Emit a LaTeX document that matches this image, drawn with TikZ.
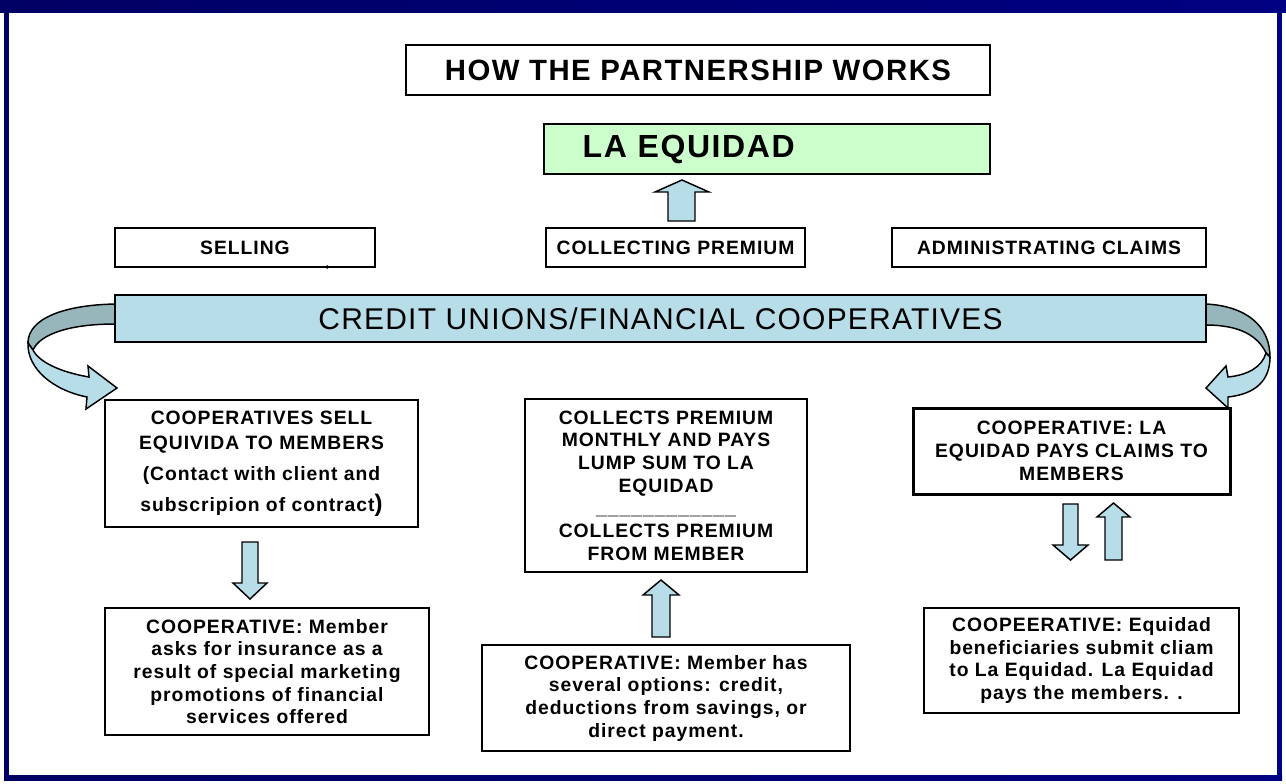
\documentclass[tikz,border=0pt]{standalone}
\usepackage{fontspec}
\setmainfont{Liberation Sans}[LetterSpace=5]
\newfontfamily\bannerfont{Liberation Sans}[LetterSpace=4]
\usetikzlibrary{arrows.meta}

\definecolor{framenavyL}{RGB}{0,0,100}
\definecolor{framenavyR}{RGB}{0,0,130}
\definecolor{ribbonblue}{RGB}{183,222,232}
\definecolor{ribbonback}{RGB}{150,182,187}
\definecolor{mintgreen}{RGB}{204,255,204}

\tikzset{every picture/.style={line width=0.75pt}}
\tikzset{
  flowbox/.style={draw, line width=1.5pt, fill=white, align=center, inner sep=0pt,
    font=\bfseries\fontsize{14.5}{17}\selectfont},
  tagbox/.style={flowbox, font=\bfseries\fontsize{14.5}{16}\selectfont},
  blockarrow/.style={draw, line width=1.1pt, fill=ribbonblue, line join=miter},
}

\begin{document}
\begin{tikzpicture}[x=0.75pt,y=0.75pt,yscale=-1,xscale=1]
\useasboundingbox (0,0) rectangle (1286,783);

%Frame
\shade [left color=framenavyL, right color=framenavyR] (0,0) rectangle (1286,12);
\fill [framenavyL] (4,12) rectangle (9,780);
\fill [framenavyR] (1277,12) rectangle (1282,780);
\shade [left color=framenavyL, right color=framenavyR] (4,775) rectangle (1282,780);

% Text Node
\draw (698,70) node [tagbox, minimum width=438pt, minimum height=37.5pt, font=\bfseries\fontsize{22}{26}\selectfont] (title) {HOW THE PARTNERSHIP WORKS};
% Text Node
\draw (767,149) node [tagbox, fill=mintgreen, minimum height=37pt, inner xsep=29pt, text width=276.5pt, align=left, font=\bfseries\fontsize{24}{28}\selectfont] (equidad) {LA EQUIDAD};

%Up Arrow
\draw [blockarrow] (668,221) -- (668,192) -- (655,192) -- (682,180) -- (709,192) -- (695,192) -- (695,221) -- cycle ;

% Text Node
\draw (245,247.5) node [tagbox, minimum width=195pt, minimum height=29.25pt] (selling) {SELLING};
% Text Node
\draw (675.5,247.5) node [tagbox, minimum width=194.25pt, minimum height=29.25pt] (collecting) {COLLECTING PREMIUM};
% Text Node
\draw (1049,247.5) node [tagbox, minimum width=235.5pt, minimum height=29.25pt] (claims) {ADMINISTRATING CLAIMS};
\draw [-{Stealth[length=4pt,width=3pt]}] (331,267) -- (323,267) ;

%Curved Arrow (left)
\draw [blockarrow, fill=ribbonback] (115,304) .. controls (65,305) and (28,318) .. (28,343) -- (33,350) .. controls (40,334) and (70,324) .. (115,324) -- cycle ;
\draw [blockarrow] (28,343) .. controls (27,368) and (52,390) .. (87,397) -- (86,409) -- (117,388) -- (88,366) -- (89,377) .. controls (60,372) and (39,362) .. (33,350) -- cycle ;
%Curved Arrow (right)
\draw [blockarrow, fill=ribbonback] (1206,304) .. controls (1245,306) and (1270,325) .. (1270,357) -- (1266,353) .. controls (1258,336) and (1240,325) .. (1206,325) -- cycle ;
\draw [blockarrow] (1270,357) .. controls (1270,380) and (1256,394) .. (1228,397) -- (1228,408) -- (1206,388) -- (1226,366) -- (1228,377) .. controls (1248,375) and (1262,367) .. (1266,353) -- cycle ;

% Text Node
\draw (660.5,318.5) node [flowbox, fill=ribbonblue, minimum width=818.25pt, minimum height=35.25pt, font=\bannerfont\fontsize{22.5}{26}\selectfont] (unions) {CREDIT UNIONS/FINANCIAL COOPERATIVES};

% Text Node
\draw (261.5,463.5) node [flowbox, minimum width=234.75pt, minimum height=95.25pt, font=\bfseries\fontsize{14.5}{18.75}\selectfont] (sells) {COOPERATIVES SELL\\ EQUIVIDA TO MEMBERS\\[4.5pt] (Contact with client and\\[4.5pt] subscripion of contract{\fontsize{18}{18}\selectfont)}};
% Text Node
\draw (666,485.5) node [flowbox, minimum width=211.5pt, minimum height=129.75pt] (lumpsum) {COLLECTS PREMIUM\\ MONTHLY AND PAYS\\ LUMP SUM TO LA\\ EQUIDAD\\ \_\_\_\_\_\_\_\_\_\_\_\_\\ COLLECTS PREMIUM\\ FROM MEMBER};
% Text Node
\draw (1071.5,451) node [flowbox, line width=2.25pt, minimum width=237.75pt, minimum height=64.5pt] (pays) {COOPERATIVE: LA\\ EQUIDAD PAYS CLAIMS TO\\ MEMBERS};

%Down Arrow
\draw [blockarrow] (242,542) -- (258,542) -- (258,583) -- (267,583) -- (250,599) -- (233,583) -- (242,583) -- cycle ;
%Up Arrow
\draw [blockarrow] (652,637) -- (652,595) -- (643,595) -- (661,580) -- (679,595) -- (670,595) -- (670,637) -- cycle ;
%Down Arrow
\draw [blockarrow] (1063,504) -- (1078,504) -- (1078,545) -- (1088,545) -- (1070.5,560) -- (1053,545) -- (1063,545) -- cycle ;
%Up Arrow
\draw [blockarrow] (1105,560) -- (1105,517) -- (1097,517) -- (1113.5,503) -- (1130,517) -- (1122,517) -- (1122,560) -- cycle ;

% Text Node
\draw (267,671.5) node [flowbox, minimum width=243pt, minimum height=95.25pt] (asks) {COOPERATIVE: Member\\ asks for insurance as a\\ result of special marketing\\ promotions of financial\\ services offered};
% Text Node
\draw (666,698) node [flowbox, minimum width=276pt, minimum height=79.5pt] (options) {COOPERATIVE: Member has\\ several options: credit,\\ deductions from savings, or\\ direct payment.};
% Text Node
\draw (1081.5,660.5) node [flowbox, minimum width=236.25pt, minimum height=78.75pt] (submit) {COOPEERATIVE: Equidad\\ beneficiaries submit cliam\\ to La Equidad. La Equidad\\ pays the members. .};

\end{tikzpicture}
\end{document}
